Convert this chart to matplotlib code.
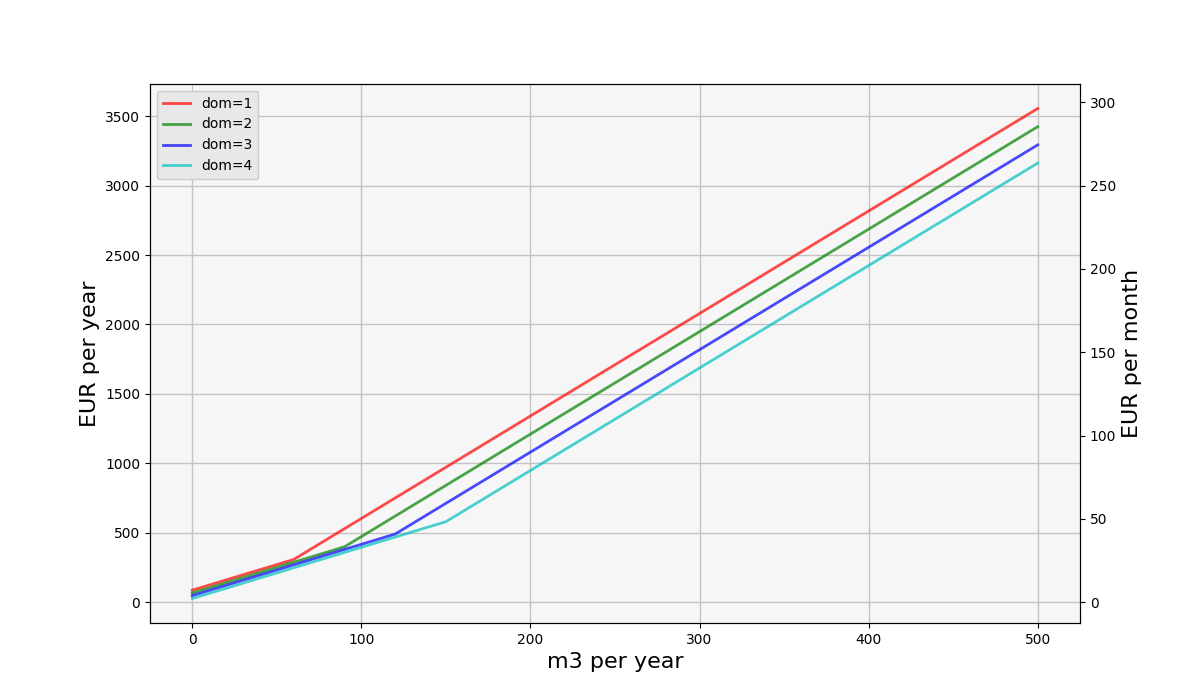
import numpy as np
import matplotlib
matplotlib.use('Agg')
import matplotlib.pyplot as plt

# Breakpoints (m3 per year) and yearly cost (EUR)
x_dom1 = [0, 60, 500]
y_dom1 = [87, 308, 3555]
x_dom2 = [0, 90, 500]
y_dom2 = [67, 399, 3424]
x_dom3 = [0, 120, 500]
y_dom3 = [48, 491, 3293]
x_dom4 = [0, 150, 500]
y_dom4 = [27, 580, 3162]

labels = ['dom=1', 'dom=2', 'dom=3', 'dom=4']
colors = ['r', 'g', 'b', 'c']
series = [(x_dom1, y_dom1), (x_dom2, y_dom2), (x_dom3, y_dom3), (x_dom4, y_dom4)]

fig, ax = plt.subplots(figsize=(12, 7), dpi=100)
ax.set_facecolor('#f6f6f6')
for (xs, ys), lab, col in zip(series, labels, colors):
    ax.plot(xs, ys, color=col, alpha=0.7, lw=2, label=lab)

ax.grid(True, color='#c4c4c4', lw=1)
ax.set_axisbelow(True)
ax.set_xlabel('m3 per year', fontsize=16)
ax.set_ylabel('EUR per year', fontsize=16)
leg = ax.legend(loc='upper left', facecolor='#e8e8e8', framealpha=1)

# Right axis: monthly cost
ax2 = ax.twinx()
lo, hi = ax.get_ylim()
ax2.set_ylim(lo / 12, hi / 12)
ax2.set_ylabel('EUR per month', fontsize=16)

plt.savefig('out.png')
